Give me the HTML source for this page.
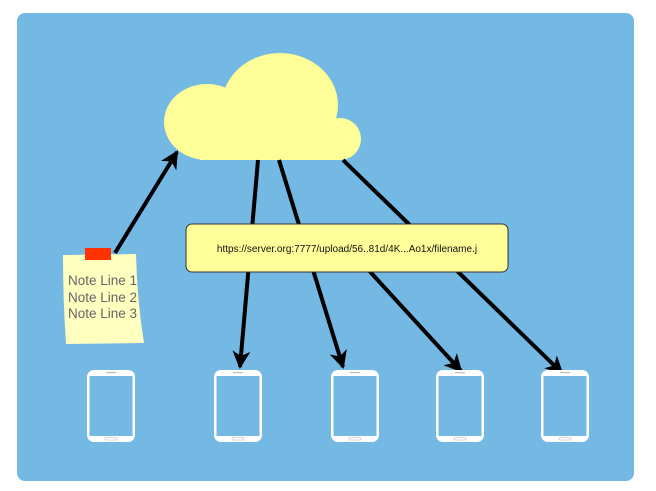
<!DOCTYPE html>
<html><head><style>
html,body{margin:0;padding:0;background:#fff;width:656px;height:491px;overflow:hidden}
</style></head><body>
<svg width="656" height="491" viewBox="0 0 656 491" xmlns="http://www.w3.org/2000/svg">
<defs>
<marker id="ah" markerWidth="18" markerHeight="18" refX="16" refY="9" orient="auto" markerUnits="userSpaceOnUse" viewBox="0 0 18 18">
<path d="M0,0 L18,9 L0,18 L5,9 Z" fill="#000"/>
</marker>
<g id="phone">
<rect x="0" y="0" width="48" height="72" rx="7" fill="#fff"/>
<rect x="2.5" y="6" width="43" height="60" fill="#74b8e4"/>
<rect x="18" y="67.5" width="12" height="2.5" rx="1" fill="none" stroke="#ccc" stroke-width="0.8"/>
<rect x="19" y="2" width="10" height="1.2" fill="#bbb"/>
</g>
</defs>
<rect x="17" y="13" width="617" height="468" rx="8" fill="#74b8e4"/>
<!-- cloud -->
<g fill="#ffff99">
<ellipse cx="280" cy="105" rx="58" ry="52"/>
<ellipse cx="207" cy="122" rx="43" ry="38"/>
<circle cx="340" cy="139" r="21"/>
<rect x="200" y="125" width="140" height="35"/>
</g>
<g stroke="#000" stroke-width="4" fill="none" marker-end="url(#ah)">
<line x1="258" y1="160" x2="240" y2="367"/>
<line x1="279" y1="160" x2="343" y2="367"/>
<line x1="330" y1="228" x2="461" y2="371"/>
<line x1="343" y1="160" x2="562" y2="373"/>
<line x1="115" y1="253" x2="177" y2="152"/>
</g>
<rect x="186" y="224" width="322" height="48" rx="6" fill="#ffff99" stroke="#333" stroke-width="1"/>
<text x="347" y="252" font-family="Liberation Sans, sans-serif" font-size="10" text-anchor="middle" fill="#111">https://server.org:7777/upload/56..81d/4K...Ao1x/filename.j</text>
<!-- note -->
<path d="M63,255 L136,254 Q137,300 144,343 L66,344 Q63,300 63,255 Z" fill="#ffffc0"/>
<rect x="85" y="248" width="26" height="12" fill="#ff3300"/>
<g font-family="Liberation Sans, sans-serif" font-size="13.5" fill="#666">
<text x="68" y="285">Note Line 1</text>
<text x="68" y="302">Note Line 2</text>
<text x="68" y="318">Note Line 3</text>
</g>
<use href="#phone" x="87" y="370"/>
<use href="#phone" x="214" y="370"/>
<use href="#phone" x="331" y="370"/>
<use href="#phone" x="436" y="370"/>
<use href="#phone" x="541" y="370"/>
</svg>
</body></html>
